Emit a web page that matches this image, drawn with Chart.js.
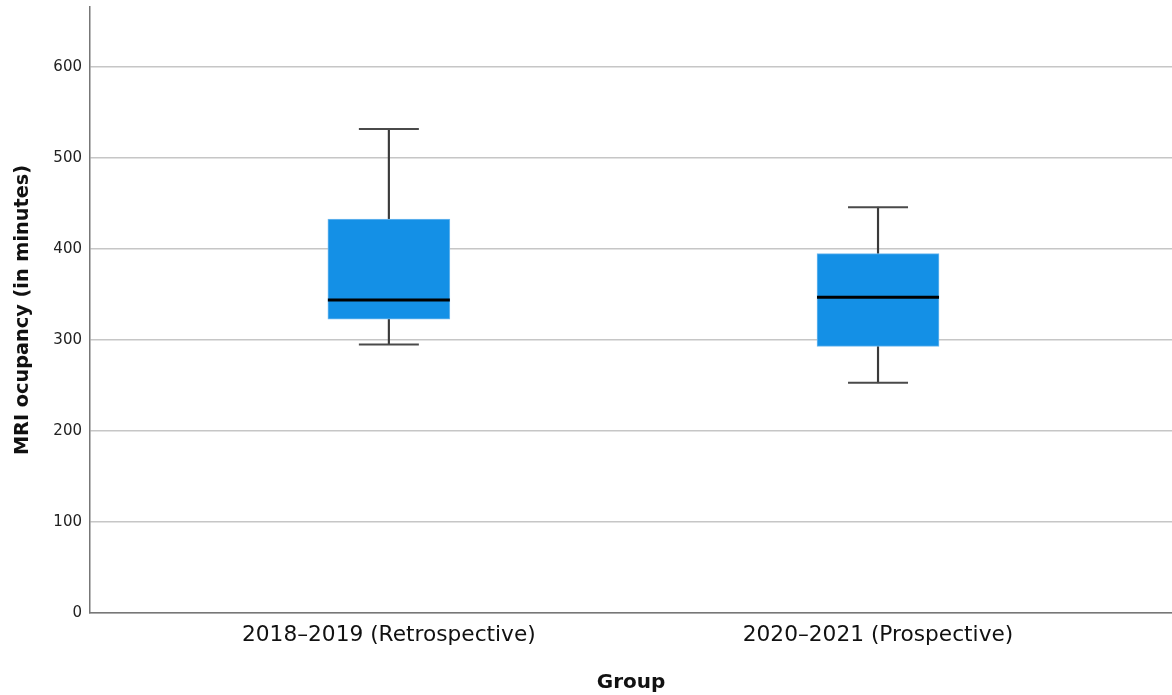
<!DOCTYPE html>
<html>
<head>
<meta charset="utf-8">
<script src="https://cdn.jsdelivr.net/npm/chart.js@4/dist/chart.umd.min.js"></script>
<style>
  html, body { margin: 0; padding: 0; background: #fff; }
  canvas { display: block; }
</style>
</head>
<body>
<canvas id="c" width="1172" height="695"></canvas>
<script>
// Box plot summary of MRI occupancy per study group (minutes)
const groups = ['2018\u20132019 (Retrospective)', '2020\u20132021 (Prospective)'];
const minimum = [295, 253];
const q1 = [323, 293];
const median = [344, 347];
const q3 = [433, 395];
const maximum = [532, 446];
const yTicks = [0, 100, 200, 300, 400, 500, 600];

const boxColor = '#1490E6';
const idx = groups.map((_, i) => i);

const boxData = idx.map(i => ({ x: i, y: [q1[i], q3[i]] }));
const lowerWhisker = idx.map(i => ({ x: i, y: [minimum[i], q1[i]] }));
const upperWhisker = idx.map(i => ({ x: i, y: [q3[i], maximum[i]] }));
const medianPts = idx.map(i => ({ x: i, y: median[i] }));
const capPts = idx.flatMap(i => [{ x: i, y: minimum[i] }, { x: i, y: maximum[i] }]);

new Chart(document.getElementById('c'), {
  type: 'bar',
  data: {
    datasets: [
      { type: 'bar', data: lowerWhisker, backgroundColor: '#3a3a3a', barThickness: 1.5, grouped: false, order: 5 },
      { type: 'bar', data: upperWhisker, backgroundColor: '#3a3a3a', barThickness: 1.5, grouped: false, order: 5 },
      { type: 'bar', data: boxData, backgroundColor: boxColor, borderColor: '#6fb9ee', borderWidth: 1,
        borderSkipped: false, barThickness: 122, grouped: false, order: 3 },
      { type: 'line', data: capPts, showLine: false, pointStyle: 'line', pointRadius: 30,
        pointBorderWidth: 2, pointBorderColor: '#4a4a4a', order: 2 },
      { type: 'line', data: medianPts, showLine: false, pointStyle: 'line', pointRadius: 61,
        pointBorderWidth: 3, pointBorderColor: '#000', order: 1 }
    ]
  },
  options: {
    responsive: false,
    animation: false,
    events: [],
    layout: { autoPadding: false, padding: { top: 7, right: 0, left: 0, bottom: 0 } },
    plugins: { legend: { display: false }, tooltip: { enabled: false } },
    scales: {
      x: {
        type: 'linear',
        min: -0.611,
        max: 1.601,
        offset: false,
        grid: { display: false, drawTicks: false },
        border: { display: true, color: '#777', width: 1.5 },
        afterBuildTicks: (scale) => { scale.ticks = idx.map(v => ({ value: v })); },
        afterFit: (scale) => { scale.height = 82; scale.paddingLeft = 0; scale.paddingRight = 0; },
        ticks: {
          padding: 9,
          maxRotation: 0,
          autoSkip: false,
          color: '#111',
          font: { family: 'DejaVu Sans', size: 21.7 },
          callback: (v) => groups[v]
        },
        title: {
          display: true,
          text: 'Group',
          color: '#111',
          font: { family: 'DejaVu Sans', size: 20, weight: 'bold' },
          padding: { top: 4, bottom: 0 }
        }
      },
      y: {
        min: 0,
        max: 666,
        afterBuildTicks: (scale) => { scale.ticks = yTicks.map(v => ({ value: v })); },
        afterFit: (scale) => { scale.width = 90; scale.paddingTop = 0; scale.paddingBottom = 0; },
        grid: { color: '#c6c6c6', lineWidth: 1.5, drawTicks: false },
        border: { display: true, color: '#777', width: 1.5 },
        ticks: {
          padding: 8,
          color: '#222',
          font: { family: 'DejaVu Sans', size: 15 }
        },
        title: {
          display: true,
          text: 'MRI ocupancy (in minutes)',
          color: '#111',
          font: { family: 'DejaVu Sans', size: 19.3, weight: 'bold' },
          padding: { top: 11, bottom: 0 }
        }
      }
    }
  }
});
</script>
</body>
</html>
